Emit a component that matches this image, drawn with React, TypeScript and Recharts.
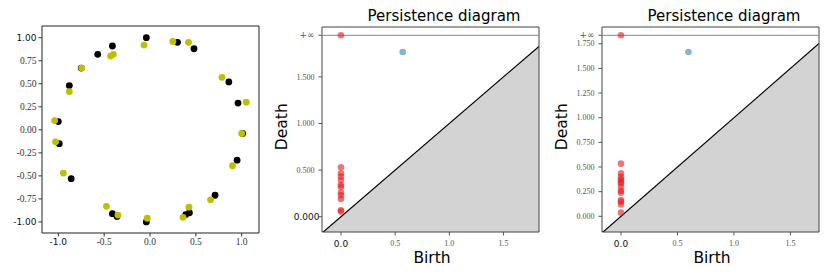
import React from "react";
import {
  Area,
  ComposedChart,
  ReferenceArea,
  ReferenceLine,
  Scatter,
  ScatterChart,
  XAxis,
  YAxis,
} from "recharts";

const SANS = "'DejaVu Sans', sans-serif";
const SERIF = "'Liberation Serif', 'DejaVu Serif', serif";

// point cloud: black = sampled circle, yellow = perturbed copy
const blackX = [-0.04, 0.3, 0.48, -0.41, -0.57, -0.75, -0.88, 0.86, 0.96, -1.0, 1.01, -0.99, 0.95, -0.86, 0.71, 0.43, 0.39, -0.41, -0.36, -0.04];
const blackY = [1.0, 0.95, 0.88, 0.91, 0.82, 0.67, 0.48, 0.52, 0.29, 0.09, -0.04, -0.15, -0.33, -0.53, -0.71, -0.9, -0.92, -0.91, -0.94, -1.0];
const yellowX = [-0.065, 0.25, 0.42, -0.4, -0.43, -0.745, -0.88, 0.785, 1.05, -1.04, 1.0, -1.03, -0.945, 0.9, 0.66, 0.425, 0.36, -0.475, -0.35, -0.03];
const yellowY = [0.92, 0.96, 0.95, 0.82, 0.8, 0.67, 0.415, 0.57, 0.3, 0.1, -0.04, -0.13, -0.47, -0.39, -0.76, -0.84, -0.95, -0.83, -0.925, -0.96];

const cloudXTicks = [-1, -0.5, 0, 0.5, 1];
const cloudYTicks = [-1, -0.75, -0.5, -0.25, 0, 0.25, 0.5, 0.75, 1];

// persistence diagram 1 (black cloud)
const pd1H0Death = [0.53, 0.465, 0.43, 0.39, 0.34, 0.32, 0.26, 0.23, 0.19, 0.07, 0.055];
const pd1H1Birth = [0.57];
const pd1H1Death = [1.767];
const pd1Inf = 1.946;
const pd1YTicks = [0, 0.5, 1, 1.5];

// persistence diagram 2 (yellow cloud)
const pd2H0Death = [0.534, 0.436, 0.4, 0.375, 0.35, 0.335, 0.3, 0.26, 0.24, 0.165, 0.148, 0.12, 0.037];
const pd2H1Birth = [0.597];
const pd2H1Death = [1.666];
const pd2Inf = 1.836;
const pd2YTicks = [0, 0.25, 0.5, 0.75, 1, 1.25, 1.5, 1.75];

const pdXTicks = [0, 0.5, 1, 1.5];

type TickOpts = {
  fmt: (v: number) => string;
  size: number;
  fill: string;
  sans?: string[];
  shift?: Record<string, number>;
};

function makeTick(axis: "x" | "y", o: TickOpts) {
  return (props: any) => {
    const { x, y, payload } = props;
    const label = o.fmt(payload.value);
    const isSans = (o.sans ?? []).includes(label);
    const isInf = label.includes("\u221e");
    return (
      <text
        x={x + (o.shift?.[label] ?? 0)}
        y={y}
        dy={axis === "x" ? "0.71em" : "0.33em"}
        textAnchor={axis === "x" ? "middle" : "end"}
        fontFamily={isSans ? SANS : isInf ? "'DejaVu Serif', serif" : SERIF}
        fontSize={isSans ? 9 : isInf ? 9 : o.size}
        fill={isSans ? "#111" : o.fill}
      >
        {label}
      </text>
    );
  };
}

const dot = (color: string, r: number, opacity = 1) => (p: any) =>
  <circle cx={p.cx} cy={p.cy} r={r} fill={color} fillOpacity={opacity} />;

function PointCloud() {
  const black = blackX.map((x, i) => ({ x, y: blackY[i] }));
  const yellow = yellowX.map((x, i) => ({ x, y: yellowY[i] }));
  const xd: [number, number] = [-1.178, 1.189];
  const yd: [number, number] = [-1.12, 1.127];
  return (
    <ScatterChart width={270} height={260} margin={{ top: 26, right: 11, bottom: 0, left: 0 }}>
      <XAxis
        type="number"
        dataKey="x"
        domain={xd}
        allowDataOverflow
        ticks={cloudXTicks}
        interval={0}
        height={27}
        axisLine={false}
        tickSize={3.5}
        tickMargin={2}
        tickLine={{ stroke: "#333" }}
        tick={makeTick("x", { fmt: (v) => v.toFixed(1), size: 9.5, fill: "#333", sans: ["-1.0"] })}
      />
      <YAxis
        type="number"
        dataKey="y"
        domain={yd}
        allowDataOverflow
        ticks={cloudYTicks}
        interval={0}
        width={42}
        axisLine={false}
        tickSize={3.5}
        tickMargin={2}
        tickLine={{ stroke: "#333" }}
        tick={makeTick("y", { fmt: (v) => v.toFixed(2), size: 9.5, fill: "#333", sans: ["1.00", "-1.00"] })}
      />
      <Scatter data={black} fill="#000" shape={dot("#000", 3.4)} isAnimationActive={false} />
      <Scatter data={yellow} fill="#bfbf00" shape={dot("#bfbf00", 3.4)} isAnimationActive={false} />
      <ReferenceArea x1={xd[0]} x2={xd[1]} y1={yd[0]} y2={yd[1]} fill="none" stroke="#222" strokeWidth={1} ifOverflow="visible" />
    </ScatterChart>
  );
}

type PDProps = {
  xd: [number, number];
  yd: [number, number];
  yTicks: number[];
  h0Death: number[];
  h1Birth: number[];
  h1Death: number[];
  inf: number;
  ySans: string[];
  yShift: Record<string, number>;
};

function PersistencePlot({ xd, yd, yTicks, h0Death, h1Birth, h1Death, inf, ySans, yShift }: PDProps) {
  const diag = [
    { x: xd[0], y: xd[0] },
    { x: xd[1], y: xd[1] },
  ];
  const h0 = [...h0Death.map((d) => ({ x: 0, y: d })), { x: 0, y: inf }];
  const h1 = h1Birth.map((b, i) => ({ x: b, y: h1Death[i] }));
  const fmtY = (v: number) => (v === inf ? "+\u221e" : v.toFixed(3));
  return (
    <ComposedChart width={280} height={277} data={diag} margin={{ top: 27, right: 11, bottom: 0, left: 0 }}>
      <XAxis
        type="number"
        dataKey="x"
        domain={xd}
        allowDataOverflow
        ticks={pdXTicks}
        interval={0}
        height={45}
        axisLine={false}
        tickSize={3.5}
        tickMargin={5}
        tickLine={{ stroke: "#555" }}
        tick={makeTick("x", { fmt: (v) => v.toFixed(1), size: 8, fill: "#555", sans: ["0.0"] })}
        label={() => (
          <text x={162} y={263.3} textAnchor="middle" fontFamily={SANS} fontSize={15.5} fill="#000">
            Birth
          </text>
        )}
      />
      <YAxis
        type="number"
        dataKey="y"
        domain={yd}
        allowDataOverflow
        ticks={[...yTicks, inf]}
        interval={0}
        width={52}
        axisLine={false}
        tickSize={3.5}
        tickMargin={4}
        tickLine={{ stroke: "#555" }}
        tick={makeTick("y", { fmt: fmtY, size: 8, fill: "#555", sans: ySans, shift: yShift })}
        label={() => (
          <text
            x={16.7}
            y={126.7}
            transform="rotate(-90 16.7 126.7)"
            textAnchor="middle"
            fontFamily={SANS}
            fontSize={15.5}
            fill="#000"
          >
            Death
          </text>
        )}
      />
      <Area
        type="linear"
        dataKey="y"
        baseValue={yd[0]}
        stroke="#000"
        strokeWidth={1.2}
        fill="#d3d3d3"
        fillOpacity={1}
        dot={false}
        activeDot={false}
        isAnimationActive={false}
      />
      <ReferenceLine y={inf} stroke="#888" strokeWidth={1} />
      <Scatter data={h0} dataKey="y" shape={dot("#e41a1c", 3.3, 0.6)} isAnimationActive={false} />
      <Scatter data={h1} dataKey="y" shape={dot("#377eb8", 3.3, 0.6)} isAnimationActive={false} />
      <ReferenceArea x1={xd[0]} x2={xd[1]} y1={yd[0]} y2={yd[1]} fill="none" stroke="#444" strokeWidth={1} ifOverflow="visible" />
    </ComposedChart>
  );
}

const titleStyle = (cx: number): React.CSSProperties => ({
  position: "absolute",
  left: cx - 110,
  top: 9,
  width: 220,
  textAlign: "center",
  fontFamily: SANS,
  fontSize: 15,
  lineHeight: "15px",
  color: "#000",
  whiteSpace: "nowrap",
});

export default function App() {
  return (
    <div style={{ position: "absolute", left: 0, top: 0, width: 830, height: 277, background: "#fff" }}>
      <div style={{ position: "absolute", left: 0, top: 0 }}>
        <PointCloud />
      </div>
      <div style={{ position: "absolute", left: 270, top: 0 }}>
        <PersistencePlot
          xd={[-0.175, 1.827]}
          yd={[-0.164, 2.035]}
          yTicks={pd1YTicks}
          h0Death={pd1H0Death}
          h1Birth={pd1H1Birth}
          h1Death={pd1H1Death}
          inf={pd1Inf}
          ySans={["0.000"]}
          yShift={{ "0.000": 5 }}
        />
      </div>
      <div style={{ position: "absolute", left: 550, top: 0 }}>
        <PersistencePlot
          xd={[-0.168, 1.753]}
          yd={[-0.159, 1.92]}
          yTicks={pd2YTicks}
          h0Death={pd2H0Death}
          h1Birth={pd2H1Birth}
          h1Death={pd2H1Death}
          inf={pd2Inf}
          ySans={[]}
          yShift={{}}
        />
      </div>
      <div style={titleStyle(444)}>Persistence diagram</div>
      <div style={titleStyle(724)}>Persistence diagram</div>
    </div>
  );
}
